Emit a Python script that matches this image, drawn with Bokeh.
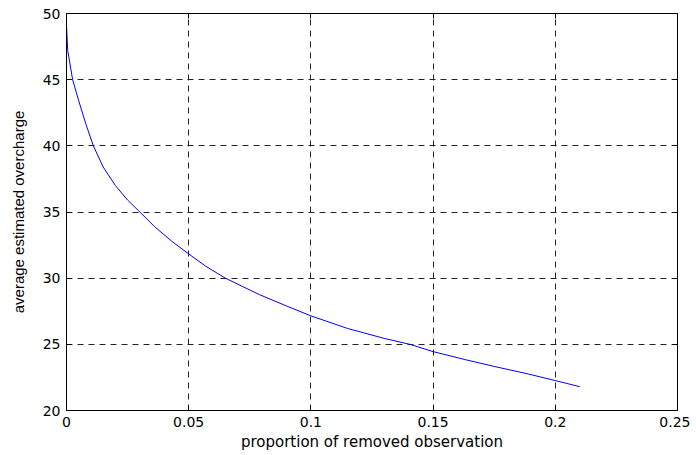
from bokeh.plotting import figure
from bokeh.models import LinearAxis, Range1d, FixedTicker
from bokeh.embed import file_html
from bokeh.resources import INLINE

# data
prop_removed = [0, 0.0005, 0.0025, 0.005, 0.008, 0.011, 0.015, 0.02, 0.025, 0.030,
                0.036, 0.043, 0.05, 0.057, 0.065, 0.079, 0.09, 0.1, 0.115, 0.13,
                0.1405, 0.15, 0.163, 0.175, 0.188, 0.2, 0.21]
avg_overcharge = [49.07, 47.2, 45.0, 43.4, 41.6, 40.0, 38.4, 37.0, 35.9, 35.0,
                  33.9, 32.8, 31.83, 30.9, 30.0, 28.75, 27.9, 27.15, 26.2, 25.45,
                  25.0, 24.45, 23.85, 23.33, 22.8, 22.26, 21.8]

x_ticks = [0, 0.05, 0.1, 0.15, 0.2, 0.25]
x_tick_labels = ["0", "0.05", "0.1", "0.15", "0.2", "0.25"]
y_ticks = [20, 25, 30, 35, 40, 45, 50]
y_tick_labels = ["20", "25", "30", "35", "40", "45", "50"]

p = figure(width=690, height=454, output_backend="svg", toolbar_location=None,
           x_range=Range1d(0, 0.25), y_range=Range1d(20, 50),
           min_border_left=66, min_border_right=13, min_border_top=13, min_border_bottom=44)
p.background_fill_color = "white"
p.border_fill_color = "white"
p.outline_line_color = "black"
p.outline_line_width = 1

p.line(prop_removed, avg_overcharge, line_color="#0000ff", line_width=1)

for ax, ticks, labels in ((p.xaxis[0], x_ticks, x_tick_labels), (p.yaxis[0], y_ticks, y_tick_labels)):
    ax.ticker = FixedTicker(ticks=ticks)
    ax.major_label_overrides = {t: l for t, l in zip(ticks, labels)}
    ax.major_tick_in = 5
    ax.major_tick_out = 0
    ax.minor_tick_in = 0
    ax.minor_tick_out = 0
    ax.axis_line_color = "black"
    ax.major_tick_line_color = "black"
    ax.major_label_text_font = "DejaVu Sans"
    ax.major_label_text_font_size = "14px"
    ax.major_label_text_color = "black"
    ax.axis_label_text_font_style = "normal"
    ax.axis_label_text_color = "black"

p.xaxis[0].axis_label = "proportion of removed observation"
p.xaxis[0].axis_label_text_font = "DejaVu Sans"
p.xaxis[0].axis_label_text_font_size = "15px"
p.xaxis[0].major_label_standoff = 6
p.xaxis[0].axis_label_standoff = 3
p.yaxis[0].axis_label = "average estimated overcharge"
p.yaxis[0].axis_label_text_font = "Liberation Sans"
p.yaxis[0].axis_label_text_font_size = "15px"
p.yaxis[0].major_label_standoff = 6
p.yaxis[0].axis_label_standoff = 13

# mirrored ticks on top and right (box on)
for loc, ticks in (("above", x_ticks), ("right", y_ticks)):
    a = LinearAxis(ticker=FixedTicker(ticks=ticks), major_tick_in=5, major_tick_out=0,
                   minor_tick_in=0, minor_tick_out=0,
                   major_label_overrides={t: "" for t in ticks},
                   major_label_standoff=0, axis_line_color="black",
                   major_tick_line_color="black")
    p.add_layout(a, loc)

for g in (p.xgrid[0], p.ygrid[0]):
    g.grid_line_color = "#222222"
    g.grid_line_dash = "6 5"
    g.grid_line_width = 1

p.xgrid[0].ticker = FixedTicker(ticks=x_ticks)
p.ygrid[0].ticker = FixedTicker(ticks=y_ticks)

open("out.html", "w").write(file_html(p, INLINE))
